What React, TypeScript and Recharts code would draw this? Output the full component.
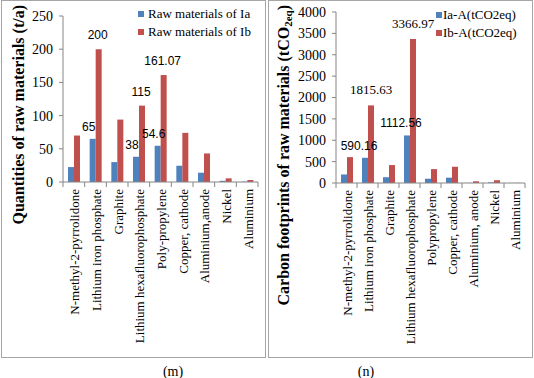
import { BarChart, Bar, XAxis, YAxis, Legend, LabelList } from "recharts"

const SERIF = '"Liberation Serif", "Times New Roman", serif'
const SANS = '"Liberation Sans", Arial, sans-serif'
const AXIS_COLOR = "#868686"
const BLUE = "#4F81BD"
const RED = "#C0504D"

// panel (m): quantities of raw materials
const categoriesM = [
    "N-methyl-2-pyrrolidone",
    "Lithium iron phosphate",
    "Graphite",
    "Lithium hexafluorophosphate",
    "Poly-propylene",
    "Copper, cathode",
    "Aluminium,anode",
    "Nickel",
    "Aluminium",
]
const rawIa = [22.5, 65, 30, 38, 54.6, 24.5, 14, 1.8, 0.5]
const rawIb = [70, 200, 94, 115, 161.07, 74, 43, 5.5, 3]
const rawIaLabels = ["", "65", "", "38", "54.6", "", "", "", ""]
const rawIbLabels = ["", "200", "", "115", "161.07", "", "", "", ""]
const rawTicks = [0, 50, 100, 150, 200, 250]
const rawNames = ["Raw materials of Ia", "Raw materials of Ib"]

// panel (n): carbon footprints
const categoriesN = [
    "N-methyl-2-pyrrolidone",
    "Lithium iron phosphate",
    "Graphite",
    "Lithium hexafluorophosphate",
    "Polypropylene",
    "Copper, cathode",
    "Aluminium, anode",
    "Nickel",
    "Aluminium",
]
const carbonIa = [200, 590.16, 135, 1112.56, 100, 125, 3, 15, 1]
const carbonIb = [605, 1815.63, 420, 3366.97, 325, 380, 40, 65, 3]
const carbonIaLabels = ["", "590.16", "", "1112.56", "", "", "", "", ""]
const carbonIbLabels = ["", "1815.63", "", "3366.97", "", "", "", "", ""]
const carbonTicks = [0, 500, 1000, 1500, 2000, 2500, 3000, 3500, 4000]
const carbonNames = ["Ia-A(tCO2eq)", "Ib-A(tCO2eq)"]

const CHART_W = 266
const CHART_H = 357

function CategoryTick(props: any) {
    const { x, y, payload, index, band, count } = props
    const axisY = y - 8
    const left = x - band / 2
    const right = x + band / 2
    return (
        <g>
            <line x1={left} x2={left} y1={axisY} y2={axisY + 5} stroke={AXIS_COLOR} />
            {index === count - 1 && (
                <line x1={right} x2={right} y1={axisY} y2={axisY + 5} stroke={AXIS_COLOR} />
            )}
            <text
                transform={`translate(${x + 1},${axisY + 7}) rotate(-90)`}
                textAnchor="end"
                dy="0.35em"
                fontFamily={SERIF}
                fontSize={13}
                fill="#000"
            >
                {payload.value}
            </text>
        </g>
    )
}

const makeLabel = (font: string, size: number, dx: number, dy: number) => (props: any) => {
    const { x, y, width, value } = props
    if (!value) return null
    return (
        <text
            x={Number(x) + Number(width) / 2 + dx}
            y={Number(y) + dy}
            textAnchor="middle"
            fontFamily={font}
            fontSize={size}
            fill="#000"
        >
            {value}
        </text>
    )
}

function LegendBox({ payload, gap }: any) {
    return (
        <div style={{ fontFamily: SERIF, fontSize: 13, lineHeight: "18px", color: "#000" }}>
            {(payload || []).map((p: any) => (
                <div key={p.value} style={{ display: "flex", alignItems: "center", whiteSpace: "nowrap" }}>
                    <span style={{ width: 6, height: 6, background: p.color, marginRight: gap, display: "inline-block" }} />
                    {p.value}
                </div>
            ))}
        </div>
    )
}

interface PanelProps {
    categories: string[]
    ia: number[]
    ib: number[]
    iaLabels: string[]
    ibLabels: string[]
    names: string[]
    ticks: number[]
    yWidth: number
    top: number
    xHeight: number
    tickMargin: number
    tickFont: number
    title: React.ReactNode
    legendLeft: number
    legendTop: number
    legendGap: number
    iaLabel: (p: any) => any
    ibLabel: (p: any) => any
}

function Panel(p: PanelProps) {
    const data = p.categories.map((c, i) => ({
        name: c,
        ia: p.ia[i],
        ib: p.ib[i],
        iaLabel: p.iaLabels[i],
        ibLabel: p.ibLabels[i],
    }))
    const right = 8
    const band = (CHART_W - p.yWidth - right) / p.categories.length
    return (
        <BarChart
            width={CHART_W}
            height={CHART_H}
            data={data}
            margin={{ top: p.top, right, left: 0, bottom: 0 }}
            barGap={0}
            barSize={6}
        >
            <XAxis
                dataKey="name"
                interval={0}
                height={p.xHeight}
                tickLine={false}
                axisLine={{ stroke: AXIS_COLOR }}
                tick={<CategoryTick band={band} count={p.categories.length} />}
            />
            <YAxis
                width={p.yWidth}
                domain={[p.ticks[0], p.ticks[p.ticks.length - 1]]}
                ticks={p.ticks}
                interval={0}
                tickSize={4}
                tickMargin={p.tickMargin}
                tickLine={{ stroke: AXIS_COLOR }}
                axisLine={{ stroke: AXIS_COLOR }}
                tick={{ fontFamily: SERIF, fontSize: p.tickFont, fill: "#000" }}
                label={{ content: () => p.title }}
            />
            <Legend
                layout="vertical"
                align="center"
                verticalAlign="middle"
                wrapperStyle={{ left: p.legendLeft, top: p.legendTop, width: "auto" }}
                content={(lp: any) => <LegendBox payload={lp.payload} gap={p.legendGap} />}
            />
            <Bar dataKey="ia" name={p.names[0]} fill={BLUE} isAnimationActive={false}>
                <LabelList dataKey="iaLabel" content={p.iaLabel} />
            </Bar>
            <Bar dataKey="ib" name={p.names[1]} fill={RED} isAnimationActive={false}>
                <LabelList dataKey="ibLabel" content={p.ibLabel} />
            </Bar>
        </BarChart>
    )
}

const titleM = (
    <text
        transform="translate(18,5) rotate(-90)"
        textAnchor="end"
        dy="0.35em"
        fontFamily={SERIF}
        fontWeight="bold"
        fontSize={16}
        fill="#000"
    >
        Quantities of raw materials (t/a)
    </text>
)

const titleN = (
    <text
        transform="translate(16,5) rotate(-90)"
        textAnchor="end"
        dy="0.35em"
        fontFamily={SERIF}
        fontWeight="bold"
        fontSize={16}
        fill="#000"
    >
        Carbon footprints of raw materials (tCO
        <tspan dy="3" fontSize="11">2eq</tspan>
        <tspan dy="-3">)</tspan>
    </text>
)

const boxStyle = (left: number): React.CSSProperties => ({
    position: "absolute",
    left,
    top: 0,
    width: 263,
    height: 356,
    border: "1px solid #A6A6A6",
})

const captionStyle = (center: number): React.CSSProperties => ({
    position: "absolute",
    left: center - 20,
    width: 40,
    top: 364,
    textAlign: "center",
    fontFamily: SERIF,
    fontSize: 14,
    lineHeight: "16px",
    color: "#000",
})

export default function App() {
    return (
        <div style={{ position: "absolute", left: 0, top: 0, width: 534, height: 378, background: "#fff" }}>
            <div style={boxStyle(1)} />
            <div style={boxStyle(268)} />
            <div style={{ position: "absolute", left: 0, top: 0 }}>
                <Panel
                    categories={categoriesM}
                    ia={rawIa}
                    ib={rawIb}
                    iaLabels={rawIaLabels}
                    ibLabels={rawIbLabels}
                    names={rawNames}
                    ticks={rawTicks}
                    yWidth={63}
                    top={16}
                    xHeight={175}
                    tickMargin={6}
                    tickFont={14}
                    title={titleM}
                    legendLeft={138}
                    legendTop={5}
                    legendGap={4}
                    iaLabel={makeLabel(SANS, 12, -4, -8)}
                    ibLabel={makeLabel(SANS, 12, -1, -10)}
                />
            </div>
            <div style={{ position: "absolute", left: 267, top: 0 }}>
                <Panel
                    categories={categoriesN}
                    ia={carbonIa}
                    ib={carbonIb}
                    iaLabels={carbonIaLabels}
                    ibLabels={carbonIbLabels}
                    names={carbonNames}
                    ticks={carbonTicks}
                    yWidth={69}
                    top={12}
                    xHeight={174}
                    tickMargin={6}
                    tickFont={14}
                    title={titleN}
                    legendLeft={169}
                    legendTop={6}
                    legendGap={1}
                    iaLabel={makeLabel(SANS, 12, -6, -8)}
                    ibLabel={makeLabel(SERIF, 13, 0, -11)}
                />
            </div>
            <div style={captionStyle(173)}>(m)</div>
            <div style={captionStyle(366)}>(n)</div>
        </div>
    )
}
